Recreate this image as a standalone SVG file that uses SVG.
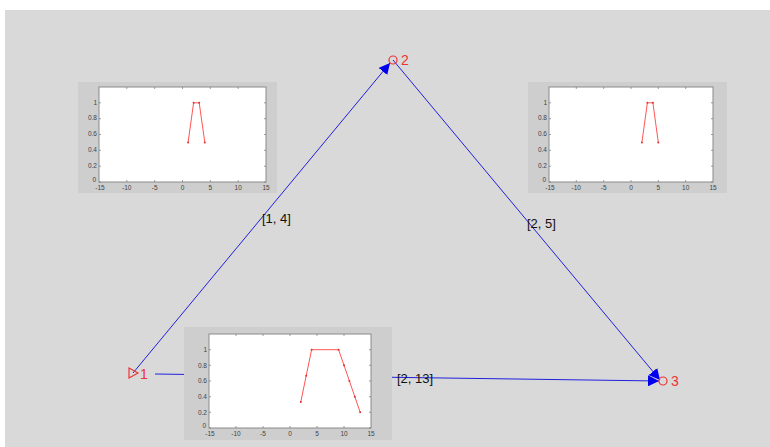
<svg xmlns="http://www.w3.org/2000/svg" width="770" height="447" viewBox="0 0 770 447">
<defs>
<marker id="arr" viewBox="0 0 10 10" refX="10" refY="5" markerWidth="11" markerHeight="11" markerUnits="userSpaceOnUse" orient="auto">
<path d="M0,0 L10,5 L0,10 z" fill="#0000ee"/>
</marker>
</defs>
<style>
.panel{fill:#cecece}
.area{fill:#ffffff;stroke:#8a8a8a;stroke-width:1}
.tk{stroke:#777;stroke-width:0.7}
.tl{font-family:"Liberation Sans",Arial,sans-serif;font-size:6.5px;fill:#444}
.data{fill:none;stroke:#ff5555;stroke-width:1}
.pt{fill:#e03030}
.edge{stroke:#2020dd;stroke-width:1;fill:none}
.elab{font-family:"Liberation Sans",Arial,sans-serif;font-size:13px;fill:#111}
.nlab{font-family:"Liberation Sans",Arial,sans-serif;font-size:14px;fill:#ee3333}
.nm{fill:none;stroke:#ee3333;stroke-width:1.2}
</style>
<rect x="0" y="0" width="770" height="447" fill="#ffffff"/>
<rect x="5" y="10" width="765" height="437" fill="#d9d9d9"/>

<g id="connectors">
<line class="edge" x1="133" y1="373" x2="390" y2="63" marker-end="url(#arr)"/>
<line class="edge" x1="393" y1="60" x2="660" y2="380" marker-end="url(#arr)"/>
<line class="edge" x1="155" y1="374" x2="659" y2="381" marker-end="url(#arr)"/>
<text class="elab" x="262" y="223">[1, 4]</text>
<text class="elab" x="527" y="228">[2, 5]</text>
<text class="elab" x="397" y="383">[2, 13]</text>
</g>

<g id="plot-left">
<rect class="panel" x="78" y="82" width="199" height="111"/>
<rect class="area" x="99" y="87" width="167" height="95"/>
<g class="tk">
<path d="M99,182h2M99,166.2h2M99,150.3h2M99,134.5h2M99,118.7h2M99,102.8h2M266,182h-2M266,166.2h-2M266,150.3h-2M266,134.5h-2M266,118.7h-2M266,102.8h-2"/>
<path d="M126.8,182v-2M154.7,182v-2M182.5,182v-2M210.3,182v-2M238.2,182v-2M126.8,87v2M154.7,87v2M182.5,87v2M210.3,87v2M238.2,87v2"/>
</g>
<g class="tl" text-anchor="end">
<text x="96" y="182">0</text><text x="97" y="168">0.2</text><text x="97" y="152">0.4</text><text x="97" y="136">0.6</text><text x="97" y="120">0.8</text><text x="97" y="104.5">1</text>
</g>
<g class="tl" text-anchor="middle">
<text x="100" y="190">-15</text><text x="126.8" y="190">-10</text><text x="154.7" y="190">-5</text><text x="182.5" y="190">0</text><text x="210.3" y="190">5</text><text x="238.2" y="190">10</text><text x="266" y="190">15</text>
</g>
<polyline class="data" points="188.1,142.4 193.6,102.8 199.2,102.8 204.8,142.4"/>
<g class="pt"><circle cx="188.1" cy="142.4" r="1"/><circle cx="193.6" cy="102.8" r="1"/><circle cx="199.2" cy="102.8" r="1"/><circle cx="204.8" cy="142.4" r="1"/></g>
</g>

<g id="plot-right">
<rect class="panel" x="528" y="82" width="199" height="111"/>
<rect class="area" x="549" y="87" width="164" height="95"/>
<g class="tk">
<path d="M549,182h2M549,166.2h2M549,150.3h2M549,134.5h2M549,118.7h2M549,102.8h2M713,182h-2M713,166.2h-2M713,150.3h-2M713,134.5h-2M713,118.7h-2M713,102.8h-2"/>
<path d="M576.3,182v-2M603.7,182v-2M631,182v-2M658.3,182v-2M685.7,182v-2M576.3,87v2M603.7,87v2M631,87v2M658.3,87v2M685.7,87v2"/>
</g>
<g class="tl" text-anchor="end">
<text x="546" y="182">0</text><text x="547" y="168">0.2</text><text x="547" y="152">0.4</text><text x="547" y="136">0.6</text><text x="547" y="120">0.8</text><text x="547" y="104.5">1</text>
</g>
<g class="tl" text-anchor="middle">
<text x="550" y="190">-15</text><text x="576.3" y="190">-10</text><text x="603.7" y="190">-5</text><text x="631" y="190">0</text><text x="658.3" y="190">5</text><text x="685.7" y="190">10</text><text x="713" y="190">15</text>
</g>
<polyline class="data" points="641.9,142.4 647.4,102.8 652.9,102.8 658.3,142.4"/>
<g class="pt"><circle cx="641.9" cy="142.4" r="1"/><circle cx="647.4" cy="102.8" r="1"/><circle cx="652.9" cy="102.8" r="1"/><circle cx="658.3" cy="142.4" r="1"/></g>
</g>

<g id="plot-bottom">
<rect class="panel" x="184" y="327" width="208" height="113"/>
<rect class="area" x="209" y="334" width="162" height="94"/>
<g class="tk">
<path d="M209,428h2M209,412.3h2M209,396.7h2M209,381h2M209,365.3h2M209,349.7h2M371,428h-2M371,412.3h-2M371,396.7h-2M371,381h-2M371,365.3h-2M371,349.7h-2"/>
<path d="M236,428v-2M263,428v-2M290,428v-2M317,428v-2M344,428v-2M236,334v2M263,334v2M290,334v2M317,334v2M344,334v2"/>
</g>
<g class="tl" text-anchor="end">
<text x="206" y="428">0</text><text x="207" y="414.5">0.2</text><text x="207" y="399">0.4</text><text x="207" y="383">0.6</text><text x="207" y="367.5">0.8</text><text x="207" y="352">1</text>
</g>
<g class="tl" text-anchor="middle">
<text x="210" y="436">-15</text><text x="236" y="436">-10</text><text x="263" y="436">-5</text><text x="290" y="436">0</text><text x="317" y="436">5</text><text x="344" y="436">10</text><text x="371" y="436">15</text>
</g>
<polyline class="data" points="300.8,401.9 306.2,375.8 311.6,349.7 338.6,349.7 344,365.3 349.4,381 354.8,396.7 360.2,412.3"/>
<g class="pt"><circle cx="300.8" cy="401.9" r="1"/><circle cx="306.2" cy="375.8" r="1"/><circle cx="311.6" cy="349.7" r="1"/><circle cx="338.6" cy="349.7" r="1"/><circle cx="344" cy="365.3" r="1"/><circle cx="349.4" cy="381" r="1"/><circle cx="354.8" cy="396.7" r="1"/><circle cx="360.2" cy="412.3" r="1"/></g>
</g>

<g id="node-1">
<path class="nm" d="M129,368 L138,373 L129,378 z"/>
<text class="nlab" x="140" y="379">1</text>
</g>
<g id="node-2">
<circle class="nm" cx="393" cy="60" r="4"/>
<text class="nlab" x="401" y="65">2</text>
</g>
<g id="node-3">
<circle class="nm" cx="663" cy="381" r="4" stroke="#e8a020"/>
<text class="nlab" x="671" y="386">3</text>
</g>
</svg>
